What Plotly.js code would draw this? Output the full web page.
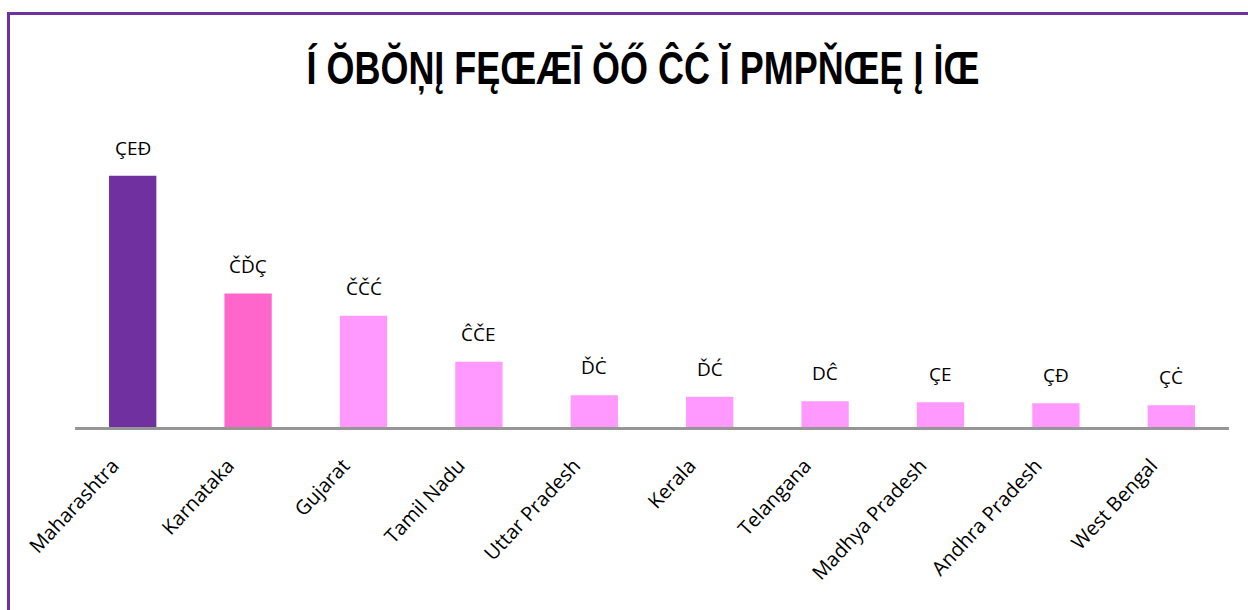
<!DOCTYPE html>
<html>
<head>
<meta charset="utf-8">
<script src="https://cdn.plot.ly/plotly-3.0.1.min.js"></script>
<style>
html,body{margin:0;padding:0;background:#fff;}
#wrap{position:relative;width:1248px;height:610px;overflow:hidden;}
#frame{position:absolute;left:7px;top:12px;width:1260px;height:640px;border:3px solid #7030A0;box-sizing:border-box;pointer-events:none;z-index:5;}
#chart{position:absolute;left:0;top:0;width:1248px;height:610px;}
</style>
</head>
<body>
<div id="wrap">
<div id="chart"></div>
<div id="frame"></div>
</div>
<script>
// Data (labels shown in the reference's own glyphs)
const states = ["Maharashtra","Karnataka","Gujarat","Tamil Nadu","Uttar Pradesh","Kerala","Telangana","Madhya Pradesh","Andhra Pradesh","West Bengal"];
const values = [497, 264, 220, 129, 63, 60, 51, 49, 47, 43];
const valueLabels = ["ÇEĐ","ČĎÇ","ČČĆ","ĈČE","ĎĊ","ĎĆ","DĈ","ÇE","ÇĐ","ÇĊ"];
const barColors = ["#7030A0","#FF66CC","#FF99FF","#FF99FF","#FF99FF","#FF99FF","#FF99FF","#FF99FF","#FF99FF","#FF99FF"];
const titleText = "Í ŎBŎŅĮ FĘŒÆĪ ŎŐ ĈĆ Ĭ PMPŇŒĘ Į İŒ";

const trace = {
  type: "bar",
  x: states,
  y: values,
  marker: {color: barColors, line: {width: 0}},
  hoverinfo: "x+y"
};

const annotations = states.map((s, i) => ({
  x: s, y: values[i], xref: "x", yref: "y",
  text: valueLabels[i], showarrow: false,
  yanchor: "bottom", yshift: 13,
  font: {family: "Open Sans, Noto Sans, sans-serif", size: 19, color: "#000"}
}));

const layout = {
  width: 1248, height: 610,
  paper_bgcolor: "#fff", plot_bgcolor: "#fff",
  margin: {l: 75, r: 19, t: 144, b: 183},
  title: {
    text: titleText,
    font: {family: "Liberation Sans Narrow, Liberation Sans, sans-serif", size: 46, color: "#000", weight: "bold"},
    x: 0.515, xanchor: "center", y: 0.888, yanchor: "middle"
  },
  bargap: 0.59,
  showlegend: false,
  xaxis: {
    type: "category",
    tickangle: -47,
    tickfont: {family: "Open Sans, Noto Sans, sans-serif", size: 20, color: "#000"},
    ticklabelstandoff: 16,
    ticklabelshift: -20,
    showline: true, linecolor: "#969696", linewidth: 3,
    ticks: "", showgrid: false, zeroline: false,
    automargin: false
  },
  yaxis: {
    range: [0, 560],
    visible: false, showgrid: false, zeroline: false, fixedrange: true
  },
  annotations: annotations
};

Plotly.newPlot("chart", [trace], layout, {displayModeBar: false, staticPlot: true}).then(function(gd){
  // Condense the title horizontally, like the narrow bold face of the reference
  const t = gd.querySelector(".gtitle");
  if (t) {
    const bb = t.getBBox();
    const cx = bb.x + bb.width / 2;
    const s = 673 / bb.width;
    t.setAttribute("transform", "translate(" + (643 - cx * s) + ",0) scale(" + s + ",1)");
  }
});
</script>
</body>
</html>
